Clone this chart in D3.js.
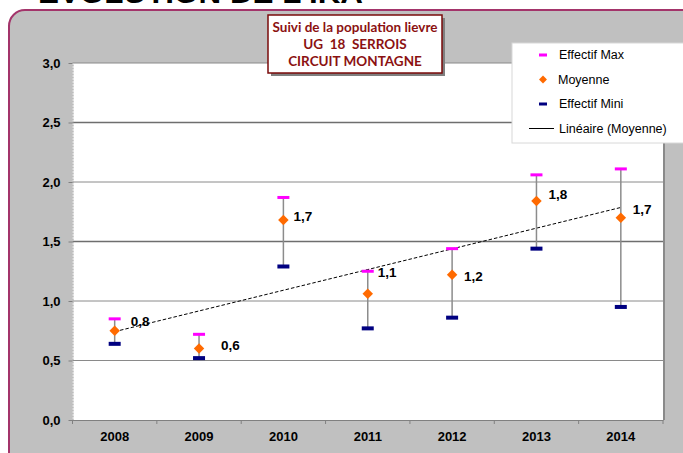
<!DOCTYPE html>
<html>
<head>
<meta charset="utf-8">
<script src="https://cdn.jsdelivr.net/npm/d3@7"></script>
<style>
  body { margin: 0; background: #fff; }
  svg { display: block; font-family: Arial, "Liberation Sans", sans-serif; }
</style>
</head>
<body>
<svg class="chart" width="683" height="453"></svg>
<script>
const years = ["2008", "2009", "2010", "2011", "2012", "2013", "2014"];
const effectifMax = [0.85, 0.72, 1.87, 1.25, 1.44, 2.06, 2.11];
const moyenne = [0.75, 0.6, 1.68, 1.06, 1.22, 1.84, 1.7];
const effectifMini = [0.64, 0.52, 1.29, 0.77, 0.86, 1.44, 0.95];
const labels = ["0,8", "0,6", "1,7", "1,1", "1,2", "1,8", "1,7"];
// where each label sits, in axis units, and its x shift in px
const labelAt = [0.83, 0.63, 1.71, 1.24, 1.21, 1.9, 1.77];
const labelDx = [16, 22, 10, 10, 12, 12, 12];
const yTicks = [0, 0.5, 1, 1.5, 2, 2.5, 3];

const svg = d3.select(".chart");

// cut-off page title at the very top
svg.append("text")
  .attr("x", 38).attr("y", 3)
  .attr("font-size", 28).attr("font-weight", "bold")
  .attr("textLength", 325).attr("lengthAdjust", "spacingAndGlyphs")
  .text("ÉVOLUTION DE L'IKA");

// grey chart area with rounded border
svg.append("rect")
  .attr("x", 9).attr("y", 10)
  .attr("width", 720).attr("height", 480)
  .attr("rx", 16)
  .attr("fill", "#c0c0c0")
  .attr("stroke", "#a3346a")
  .attr("stroke-width", 2);

const plot = { left: 72.5, right: 663, top: 63, bottom: 420 };

const x = d3.scaleBand().domain(years).range([plot.left, plot.right]);
const y = d3.scaleLinear().domain([0, 3]).range([plot.bottom, plot.top]);
const cx = (i) => x(years[i]) + x.bandwidth() / 2;

svg.append("rect")
  .attr("x", plot.left).attr("y", plot.top)
  .attr("width", plot.right - plot.left)
  .attr("height", plot.bottom - plot.top)
  .attr("fill", "#fff");

// grid
svg.append("g")
  .selectAll("line")
  .data(yTicks.filter((d) => d > 0))
  .join("line")
  .attr("x1", plot.left).attr("x2", plot.right)
  .attr("y1", (d) => y(d)).attr("y2", (d) => y(d))
  .attr("stroke", (d) => (d === 1.5 || d === 2.5 ? "#6e6e6e" : "#8a8a8a"))
  .attr("stroke-width", (d) => (d === 1.5 || d === 2.5 ? 1.6 : 1));

// right border of plot
svg.append("line")
  .attr("x1", plot.right + 1).attr("x2", plot.right + 1)
  .attr("y1", plot.top).attr("y2", plot.bottom)
  .attr("stroke", "#8a8a8a").attr("stroke-width", 2);

// y axis
const yAxis = svg.append("g")
  .attr("transform", `translate(${plot.left},0)`)
  .call(d3.axisLeft(y).tickValues(yTicks).tickSize(4).tickSizeOuter(0)
    .tickFormat((d) => d3.format(".1f")(d).replace(".", ",")));
yAxis.select(".domain").attr("stroke", "#999").attr("stroke-dasharray", "2,1");
yAxis.selectAll(".tick line").attr("stroke", "#808080");
yAxis.selectAll(".tick text")
  .attr("x", -12).attr("font-size", 13).attr("font-weight", "bold")
  .attr("font-family", "Arial, 'Liberation Sans', sans-serif").attr("fill", "#000");

// x axis
const xAxis = svg.append("g")
  .attr("transform", `translate(0,${plot.bottom})`)
  .call(d3.axisBottom(x).tickSize(0).tickSizeOuter(0));
xAxis.select(".domain").attr("stroke", "#808080");
xAxis.selectAll(".tick text")
  .attr("y", 12).attr("font-size", 13).attr("font-weight", "bold")
  .attr("font-family", "Arial, 'Liberation Sans', sans-serif").attr("fill", "#000");
svg.append("g")
  .selectAll("line")
  .data(years.concat(["end"]))
  .join("line")
  .attr("x1", (d, i) => plot.left + i * x.bandwidth())
  .attr("x2", (d, i) => plot.left + i * x.bandwidth())
  .attr("y1", plot.bottom).attr("y2", plot.bottom + 4)
  .attr("stroke", "#808080");

// linear trend of the mean
const n = moyenne.length;
const mx = d3.mean(d3.range(n));
const my = d3.mean(moyenne);
const slope = d3.sum(moyenne, (v, i) => (i - mx) * (v - my)) /
  d3.sum(d3.range(n), (i) => (i - mx) * (i - mx));
const trend = d3.range(n).map((i) => my + slope * (i - mx));
svg.append("path")
  .datum(trend)
  .attr("d", d3.line().x((d, i) => cx(i)).y((d) => y(d)))
  .attr("fill", "none")
  .attr("stroke", "#000")
  .attr("stroke-width", 1)
  .attr("stroke-dasharray", "3.5,2");

// range bars
svg.append("g")
  .selectAll("line")
  .data(years)
  .join("line")
  .attr("x1", (d, i) => cx(i)).attr("x2", (d, i) => cx(i))
  .attr("y1", (d, i) => y(effectifMax[i]))
  .attr("y2", (d, i) => y(effectifMini[i]))
  .attr("stroke", "#8c8c8c").attr("stroke-width", 1.5);

svg.append("g")
  .selectAll("rect")
  .data(effectifMax)
  .join("rect")
  .attr("x", (d, i) => cx(i) - 6).attr("y", (d) => y(d) - 1.5)
  .attr("width", 12).attr("height", 3)
  .attr("fill", "#ff00ff");

svg.append("g")
  .selectAll("rect")
  .data(effectifMini)
  .join("rect")
  .attr("x", (d, i) => cx(i) - 6).attr("y", (d) => y(d) - 2)
  .attr("width", 12).attr("height", 4)
  .attr("fill", "#000080");

const diamond = d3.symbol().type(d3.symbolDiamond2).size(70);
svg.append("g")
  .selectAll("path")
  .data(moyenne)
  .join("path")
  .attr("d", diamond)
  .attr("transform", (d, i) => `translate(${cx(i)},${y(d)})`)
  .attr("fill", "#ff6a00");

svg.append("g")
  .selectAll("text")
  .data(labels)
  .join("text")
  .attr("x", (d, i) => cx(i) + labelDx[i])
  .attr("y", (d, i) => y(labelAt[i]))
  .attr("dy", "0.35em")
  .attr("font-size", 13.5).attr("font-weight", "bold")
  .text((d) => d);

// title box
const tb = { x: 268, y: 15, w: 174, h: 58 };
svg.append("rect")
  .attr("x", tb.x + 3).attr("y", tb.y + 3)
  .attr("width", tb.w).attr("height", tb.h)
  .attr("fill", "#7f7f7f");
svg.append("rect")
  .attr("x", tb.x).attr("y", tb.y)
  .attr("width", tb.w).attr("height", tb.h)
  .attr("fill", "#fff").attr("stroke", "#7a0a0a").attr("stroke-width", 1.5);
const titleLines = ["Suivi de la population lievre", "UG  18  SERROIS", "CIRCUIT MONTAGNE"];
svg.append("g")
  .selectAll("text")
  .data(titleLines)
  .join("text")
  .attr("x", tb.x + tb.w / 2)
  .attr("y", (d, i) => tb.y + 12 + i * 17)
  .attr("dy", "0.35em")
  .attr("text-anchor", "middle")
  .attr("font-family", "Lato, 'Open Sans', sans-serif")
  .attr("font-weight", "bold")
  .attr("font-size", 13.5)
  .attr("fill", "#8b1111")
  .style("white-space", "pre")
  .text((d) => d);

// legend
const lg = svg.append("g");
lg.append("rect")
  .attr("x", 512).attr("y", 43)
  .attr("width", 180).attr("height", 100)
  .attr("fill", "#fff").attr("stroke", "#d8d8d8");
const legendItems = ["Effectif Max", "Moyenne", "Effectif Mini", "Linéaire (Moyenne)"];
legendItems.forEach((label, i) => {
  const ly = 55 + i * 24.5;
  if (i === 0) lg.append("rect").attr("x", 539).attr("y", ly - 1.5).attr("width", 8).attr("height", 3).attr("fill", "#ff00ff");
  if (i === 1) lg.append("path").attr("d", d3.symbol().type(d3.symbolDiamond2).size(40))
    .attr("transform", `translate(543,${ly})`).attr("fill", "#ff6a00");
  if (i === 2) lg.append("rect").attr("x", 539).attr("y", ly - 1.5).attr("width", 8).attr("height", 3).attr("fill", "#000080");
  if (i === 3) lg.append("line").attr("x1", 529).attr("x2", 554).attr("y1", ly).attr("y2", ly).attr("stroke", "#000");
  lg.append("text")
    .attr("x", i === 1 ? 558 : 559).attr("y", ly)
    .attr("dy", "0.35em")
    .attr("font-size", 12.5)
    .text(label);
});
</script>
</body>
</html>
